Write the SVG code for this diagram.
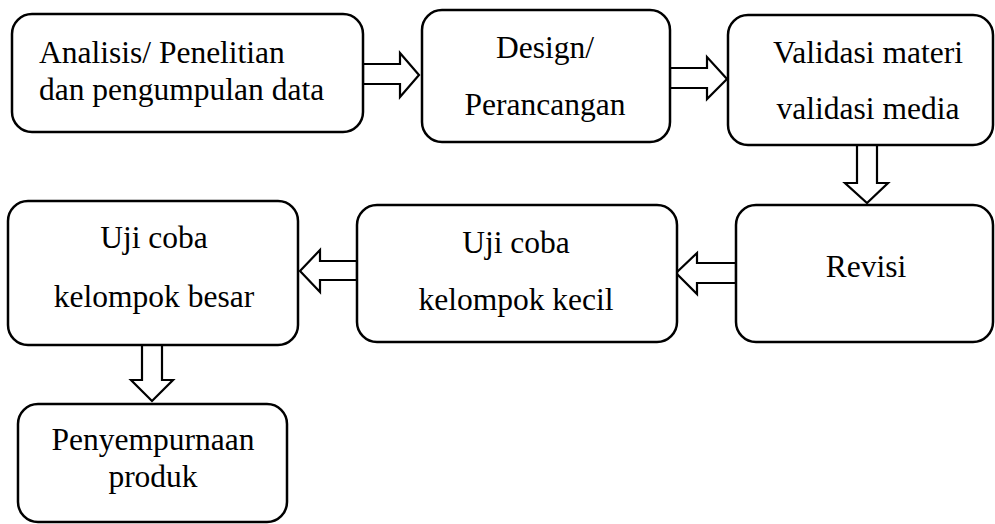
<svg xmlns="http://www.w3.org/2000/svg" width="995" height="524" viewBox="0 0 995 524">
<style>
.box{fill:#fff;stroke:#000;stroke-width:2.5}
.arr{fill:#fff;stroke:#000;stroke-width:2.2;stroke-linejoin:miter}
text{font-family:"Liberation Serif","Times New Roman",serif;font-size:31.5px;fill:#000}
.c{text-anchor:middle}
</style>
<rect width="995" height="524" fill="#fff"/>
<g id="connectors">
<polygon class="arr" points="363,64 400,64 400,53 419,75 400,97 400,84 363,84"/>
<polygon class="arr" points="670,68 707,68 707,57 727,79 707,99 707,88 670,88"/>
<polygon class="arr" points="857,145 877,145 877,183 888,183 867,203 845,183 857,183"/>
<polygon class="arr" points="736,263 697,263 697,253 676,273 697,294 697,283 736,283"/>
<polygon class="arr" points="357,261 320,261 320,250 300,271 320,292 320,280 357,280"/>
<polygon class="arr" points="142,345 162,345 162,380 173,380 152,401 131,380 142,380"/>
</g>
<g id="n1"><rect class="box" x="12" y="14" width="351" height="118" rx="20"/>
<text x="39" y="63">Analisis/ Penelitian</text><text x="39" y="100">dan pengumpulan data</text></g>
<g id="n2"><rect class="box" x="422" y="10" width="248" height="132" rx="20"/>
<text class="c" x="545" y="58">Design/</text><text class="c" x="545" y="115">Perancangan</text></g>
<g id="n3"><rect class="box" x="728" y="15" width="265" height="130" rx="20"/>
<text class="c" x="868" y="63">Validasi materi</text><text class="c" x="868" y="119">validasi media</text></g>
<g id="n4"><rect class="box" x="736" y="205" width="257" height="137" rx="20"/>
<text class="c" x="866" y="277">Revisi</text></g>
<g id="n5"><rect class="box" x="357" y="205" width="320" height="137" rx="20"/>
<text class="c" x="516" y="253">Uji coba</text><text class="c" x="516" y="310">kelompok kecil</text></g>
<g id="n6"><rect class="box" x="8" y="201" width="290" height="144" rx="20"/>
<text class="c" x="154" y="248">Uji coba</text><text class="c" x="154" y="307">kelompok besar</text></g>
<g id="n7"><rect class="box" x="18" y="404" width="269" height="118" rx="20"/>
<text class="c" x="153" y="450">Penyempurnaan</text><text class="c" x="153" y="487">produk</text></g>
</svg>
